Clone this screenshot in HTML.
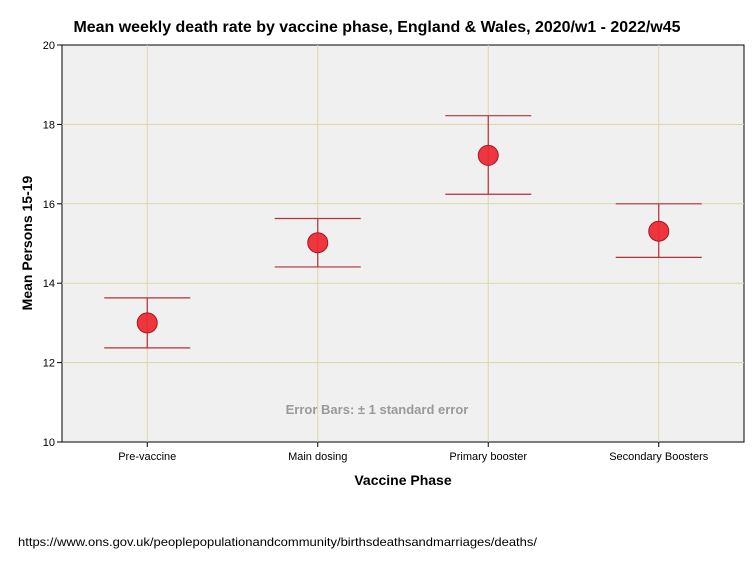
<!DOCTYPE html>
<html><head><meta charset="utf-8"><style>
body{margin:0;background:#fff;width:754px;height:564px;overflow:hidden;font-family:"Liberation Sans",sans-serif}
</style></head><body>
<svg id="chart" width="754" height="564" xmlns="http://www.w3.org/2000/svg">
<rect x="0" y="0" width="754" height="564" fill="#fff"/>
<text x="377" y="32" text-anchor="middle" font-size="16" font-weight="bold" fill="#000" textLength="607" lengthAdjust="spacingAndGlyphs">Mean weekly death rate by vaccine phase, England &amp; Wales, 2020/w1 - 2022/w45</text>
<rect x="62" y="45" width="682" height="397" fill="#f0f0f0" stroke="#000" stroke-width="1"/>
<g id="grid"></g>
<g id="axes"></g>
<g id="marks"></g>
<text x="377" y="414" text-anchor="middle" font-size="13" font-weight="bold" fill="#999">Error Bars: ± 1 standard error</text>
<text x="403" y="485" text-anchor="middle" font-size="14" font-weight="bold" fill="#000">Vaccine Phase</text>
<text transform="translate(32,243) rotate(-90)" text-anchor="middle" font-size="14" font-weight="bold" fill="#000">Mean Persons 15-19</text>
<text x="18" y="546" font-size="12" fill="#000" textLength="519" lengthAdjust="spacingAndGlyphs">https://www.ons.gov.uk/peoplepopulationandcommunity/birthsdeathsandmarriages/deaths/</text>
</svg>
<script>
const categories=["Pre-vaccine","Main dosing","Primary booster","Secondary Boosters"];
const means=[13.0,15.02,17.22,15.31];
const lower=[12.37,14.41,16.24,14.65];
const upper=[13.63,15.63,18.22,16.0];
const yTicks=[10,12,14,16,18,20];
const NS="http://www.w3.org/2000/svg";
const x0=62,x1=744,y0=442,y1=45,ymin=10,ymax=20;
const xs=i=>x0+(x1-x0)/categories.length*(i+0.5);
const ys=v=>y0-(v-ymin)/(ymax-ymin)*(y0-y1);
function mk(parent,tag,attrs){const e=document.createElementNS(NS,tag);for(const k in attrs)e.setAttribute(k,attrs[k]);document.getElementById(parent).appendChild(e);return e;}
yTicks.forEach(t=>{
  if(t>ymin&&t<ymax){const g=mk('grid','line',{x1:x0,x2:x1,y1:ys(t),y2:ys(t),stroke:'#ddd5a5','stroke-width':1});
  
  }
  const tk=mk('axes','line',{x1:x0-5,x2:x0,y1:ys(t),y2:ys(t),stroke:'#000'});
  
  
  const lb=mk('axes','text',{x:x0-7,y:ys(t)+4,'text-anchor':'end','font-size':11,fill:'#000'});
  lb.textContent=t;
  
  
});
categories.forEach((c,i)=>{
  const x=xs(i);
  const g=mk('grid','line',{x1:x,x2:x,y1:y1,y2:y0,stroke:'#ddd5a5','stroke-width':1});
  
  
  const tk=mk('axes','line',{x1:x,x2:x,y1:y0,y2:y0+5,stroke:'#000'});
  
  
  const lb=mk('axes','text',{x:x,y:y0+18,'text-anchor':'middle','font-size':11,fill:'#000'});
  lb.textContent=c;
  
  
  const eb=mk('marks','path',{d:`M${x-43},${ys(upper[i])}H${x+43}M${x},${ys(upper[i])}V${ys(lower[i])}M${x-43},${ys(lower[i])}H${x+43}`,stroke:'#b5303a','stroke-width':1.2,fill:'none'});
  
  
  const pt=mk('marks','circle',{cx:x,cy:ys(means[i]),r:10,fill:'#ee2a33',stroke:'#a01820','stroke-width':1,'fill-opacity':0.95});
  
  
});
</script>
</body></html>
